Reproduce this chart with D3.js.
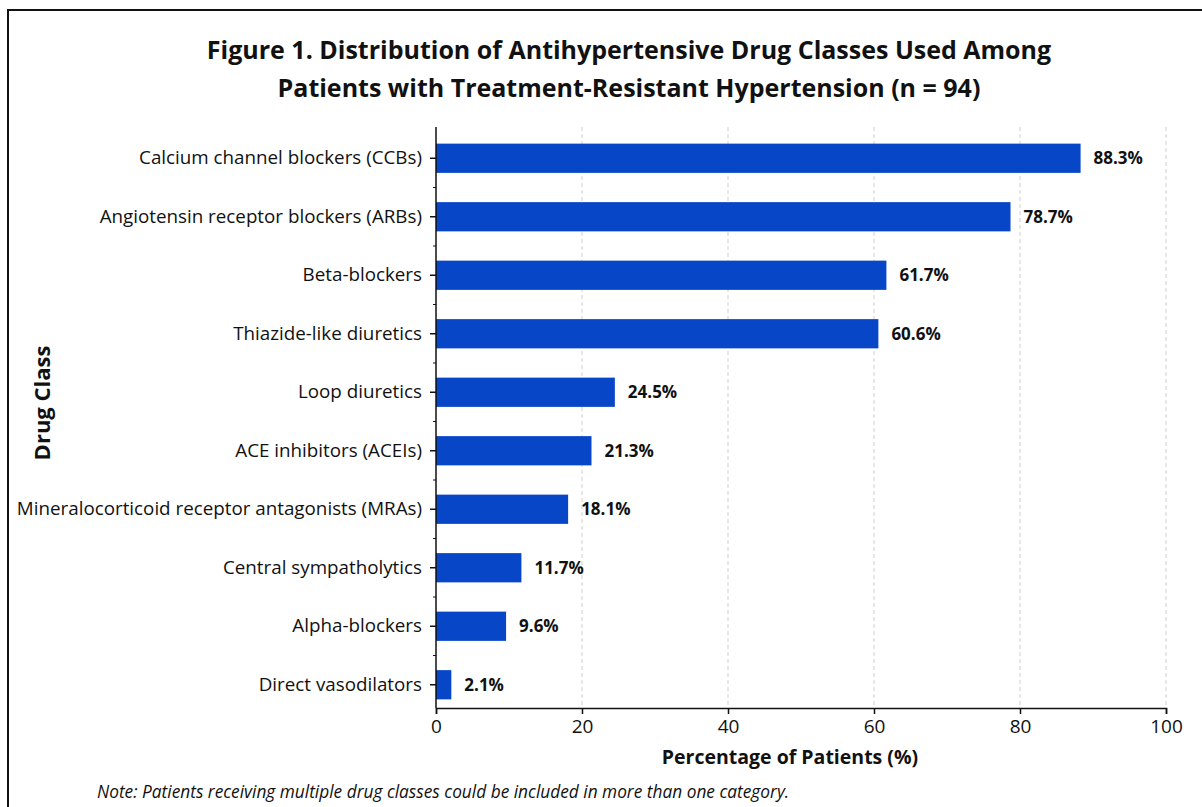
<!DOCTYPE html>
<html>
<head>
<meta charset="utf-8">
<script src="https://cdn.jsdelivr.net/npm/d3@7"></script>
<style>
  body { margin: 0; background: #fff; }
  svg { display: block; font-family: "Open Sans", "Noto Sans", sans-serif; }
</style>
</head>
<body>
<div class="chart"></div>
<script>
// data
var categories = [
  'Calcium channel blockers (CCBs)',
  'Angiotensin receptor blockers (ARBs)',
  'Beta-blockers',
  'Thiazide-like diuretics',
  'Loop diuretics',
  'ACE inhibitors (ACEIs)',
  'Mineralocorticoid receptor antagonists (MRAs)',
  'Central sympatholytics',
  'Alpha-blockers',
  'Direct vasodilators'
];
var percents = [88.3, 78.7, 61.7, 60.6, 24.5, 21.3, 18.1, 11.7, 9.6, 2.1];
var xTicks = [0, 20, 40, 60, 80, 100];

var titleLines = [
  'Figure 1. Distribution of Antihypertensive Drug Classes Used Among',
  'Patients with Treatment-Resistant Hypertension (n = 94)'
];

// width and height
var w = 1202, h = 807;
var plotLeft = 436, plotRight = 1166, plotTop = 127, plotBottom = 708;

var svg = d3.select('.chart').append('svg')
  .attr('width', w)
  .attr('height', h);

// outer frame
svg.append('rect')
  .attr('x', 8).attr('y', 10)
  .attr('width', 1210).attr('height', 820)
  .attr('fill', 'none')
  .attr('stroke', '#111')
  .attr('stroke-width', 2);

var x = d3.scaleLinear().domain([0, 100]).range([plotLeft, plotRight]);
var y = d3.scaleBand().domain(categories).range([129, 714])
  .paddingInner(0.5).paddingOuter(0.25);

// grid
svg.append('g').selectAll('line')
  .data(xTicks.slice(1))
  .enter().append('line')
  .attr('x1', function(d) { return x(d); })
  .attr('x2', function(d) { return x(d); })
  .attr('y1', plotTop).attr('y2', plotBottom)
  .attr('stroke', '#cfcfcf')
  .attr('stroke-dasharray', '4,3');

// bars
svg.append('g').selectAll('rect')
  .data(percents)
  .enter().append('rect')
  .attr('x', x(0))
  .attr('y', function(d, i) { return y(categories[i]); })
  .attr('width', function(d) { return x(d) - x(0); })
  .attr('height', y.bandwidth())
  .attr('fill', '#0846c8');

// value labels
svg.append('g').selectAll('text')
  .data(percents)
  .enter().append('text')
  .attr('x', function(d) { return x(d) + 13; })
  .attr('y', function(d, i) { return y(categories[i]) + y.bandwidth() / 2; })
  .attr('dy', '0.35em')
  .attr('font-size', '17px')
  .attr('font-weight', 'bold')
  .attr('fill', '#111')
  .text(function(d) { return d.toFixed(1) + '%'; });

// x axis
var xAxis = svg.append('g')
  .attr('transform', 'translate(0,' + plotBottom + ')')
  .call(d3.axisBottom(x).tickValues(xTicks).tickSize(6).tickPadding(6));
xAxis.selectAll('text').attr('font-size', '19px').attr('fill', '#111')
  .attr('font-family', '"Open Sans", sans-serif');
xAxis.selectAll('line, path').attr('stroke', '#111').attr('stroke-width', 1.5);

// y axis
var yAxis = svg.append('g')
  .attr('transform', 'translate(' + plotLeft + ',0)')
  .call(d3.axisLeft(y).tickSize(6).tickPadding(8).tickSizeOuter(0));
yAxis.selectAll('text').attr('font-size', '18.8px').attr('fill', '#111')
  .attr('font-family', '"Open Sans", sans-serif');
yAxis.selectAll('line, path').attr('stroke', '#111').attr('stroke-width', 1.5);
yAxis.select('path').attr('d', 'M0,' + plotTop + 'V' + plotBottom);

// minor ticks between categories
svg.append('g').selectAll('line')
  .data(categories.slice(1))
  .enter().append('line')
  .attr('x1', plotLeft - 3).attr('x2', plotLeft)
  .attr('y1', function(d) { return y(d) - y.step() * y.paddingInner() / 2; })
  .attr('y2', function(d) { return y(d) - y.step() * y.paddingInner() / 2; })
  .attr('stroke', '#111');

// titles
svg.append('g').selectAll('text')
  .data(titleLines)
  .enter().append('text')
  .attr('x', 629)
  .attr('y', function(d, i) { return 59 + i * 38; })
  .attr('text-anchor', 'middle')
  .attr('font-size', '25px')
  .attr('font-weight', 'bold')
  .attr('fill', '#111')
  .text(function(d) { return d; });

svg.append('text')
  .attr('x', 790).attr('y', 764)
  .attr('text-anchor', 'middle')
  .attr('font-size', '19.5px')
  .attr('font-weight', 'bold')
  .attr('fill', '#111')
  .text('Percentage of Patients (%)');

svg.append('text')
  .attr('transform', 'translate(50,' + 403 + ') rotate(-90)')
  .attr('text-anchor', 'middle')
  .attr('font-size', '22px')
  .attr('font-weight', 'bold')
  .attr('fill', '#111')
  .text('Drug Class');

svg.append('text')
  .attr('x', 97).attr('y', 798)
  .attr('font-size', '17.3px')
  .attr('font-style', 'italic')
  .attr('fill', '#111')
  .text('Note: Patients receiving multiple drug classes could be included in more than one category.');
</script>
</body>
</html>
